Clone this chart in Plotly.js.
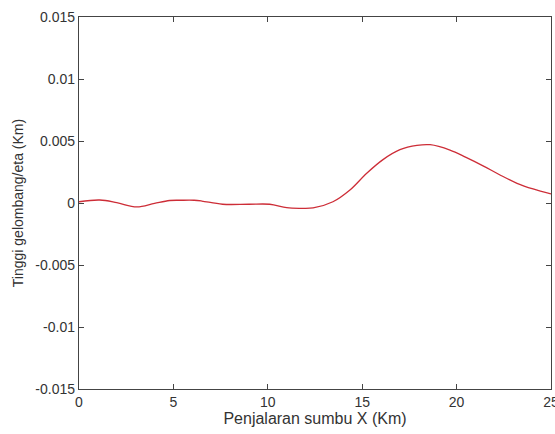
<!DOCTYPE html>
<html>
<head>
<meta charset="utf-8">
<script src="https://cdn.plot.ly/plotly-3.0.1.min.js"></script>
<style>html,body{margin:0;padding:0;background:#fff;}#chart{width:555px;height:434px;}</style>
</head>
<body>
<div id="chart"></div>
<script>
var xKm = [0, 1.1, 2, 3.06, 4, 4.8, 5.4, 6.1, 6.5, 7.6, 9, 10.1, 11, 11.7, 12.4, 13.45, 14.35, 15.24, 16.1, 17.0, 17.9, 18.6, 19.65, 20.5, 21.4, 22.3, 23.2, 24.05, 25];
var eta = [0.0001, 0.00024, 0.00003, -0.00032, -0.00003, 0.0002, 0.00022, 0.00022, 0.00016, -0.0001, -0.0001, -0.0001, -0.00038, -0.00043, -0.0004, 0.0001, 0.00105, 0.0024, 0.0035, 0.0043, 0.00465, 0.0047, 0.00427, 0.00368, 0.003, 0.00226, 0.00159, 0.00113, 0.00073];
var yTickVals = [-0.015, -0.01, -0.005, 0, 0.005, 0.01, 0.015];
var yTickText = ["-0.015", "-0.01", "-0.005", "0", "0.005", "0.01", "0.015"];
var xTickVals = [0, 5, 10, 15, 20, 25];
var xTickText = ["0", "5", "10", "15", "20", "25"];

var trace = {
  x: xKm, y: eta, type: 'scatter', mode: 'lines',
  line: {color: 'rgb(205,45,55)', width: 1.3, shape: 'spline', smoothing: 1},
  hoverinfo: 'skip'
};
var axisCommon = {
  showgrid: false, zeroline: false, showline: true, mirror: 'ticks',
  linecolor: '#444', linewidth: 1.2, ticks: 'inside', ticklen: 5, tickcolor: '#444',
  ticklabeloverflow: 'allow',
  tickfont: {family: 'Liberation Sans, Arial, sans-serif', size: 14, color: '#333'}
};
var layout = {
  width: 555, height: 434,
  margin: {l: 79, r: 4, t: 17, b: 45},
  paper_bgcolor: '#fff', plot_bgcolor: '#fff',
  showlegend: false,
  xaxis: Object.assign({}, axisCommon, {
    range: [0, 25], tickmode: 'array', tickvals: xTickVals, ticktext: xTickText,
    title: {text: 'Penjalaran sumbu X (Km)', font: {family: 'Liberation Sans, Arial, sans-serif', size: 16, color: '#333'}, standoff: 3}
  }),
  yaxis: Object.assign({}, axisCommon, {
    range: [-0.015, 0.015], tickmode: 'array', tickvals: yTickVals, ticktext: yTickText,
    title: {text: 'Tinggi gelombang/eta (Km)', font: {family: 'Liberation Sans, Arial, sans-serif', size: 14, color: '#333'}, standoff: 8}
  })
};
Plotly.newPlot('chart', [trace], layout, {staticPlot: true, displayModeBar: false});
</script>
</body>
</html>
